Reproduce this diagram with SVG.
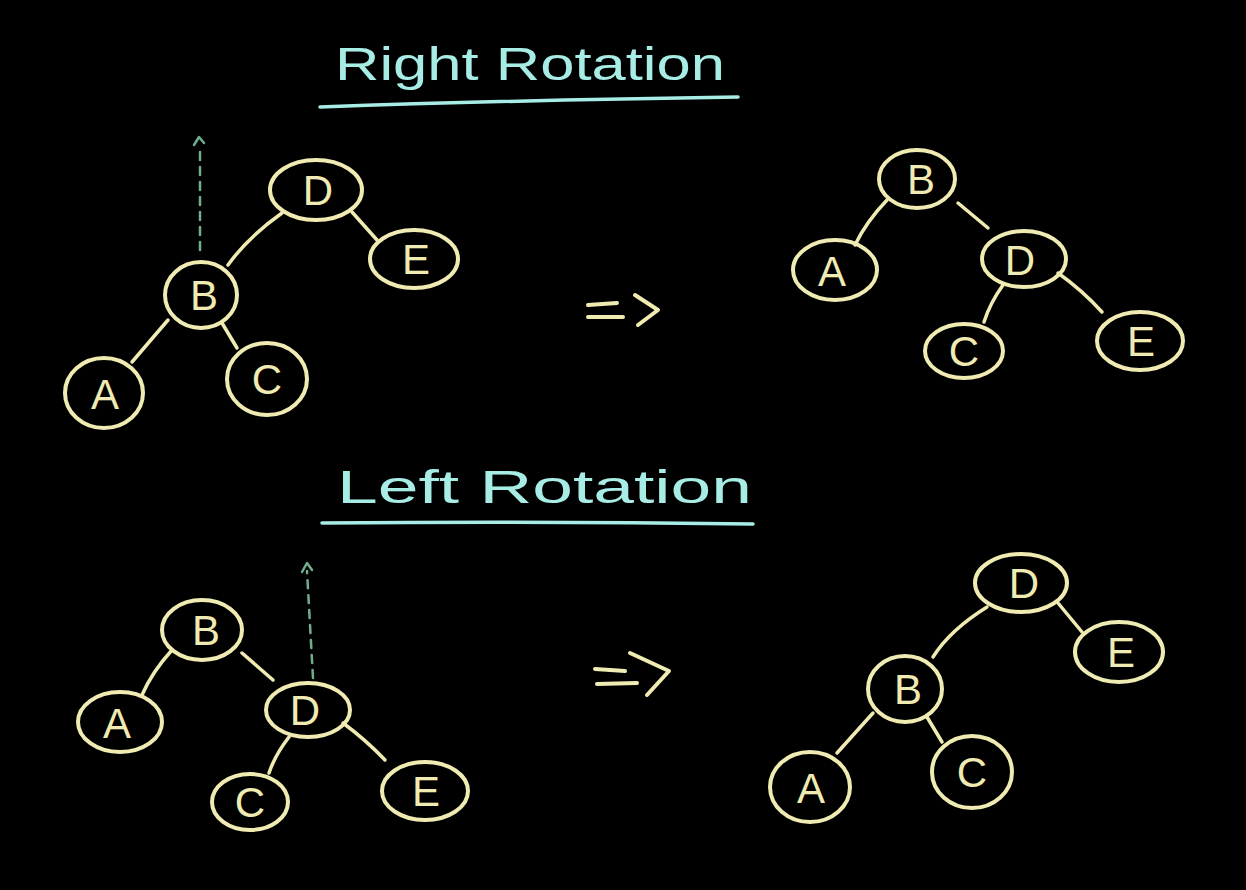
<svg xmlns="http://www.w3.org/2000/svg" width="1246" height="890" viewBox="0 0 1246 890">
<style>
.bg{fill:#000}
.title{font-family:"Liberation Sans",Arial,sans-serif;font-size:46px;fill:#a8ece6}
.uline{fill:none;stroke:#a8ece6;stroke-width:3.5;stroke-linecap:round}
.node ellipse{fill:none;stroke:#f0ebb2;stroke-width:4}
.node text{font-family:"Liberation Sans",Arial,sans-serif;font-size:42px;fill:#f0ebb2;text-anchor:middle}
.edge{fill:none;stroke:#f0ebb2;stroke-width:3.5;stroke-linecap:round}
.dot{fill:none;stroke:#6fae8c;stroke-width:2.5;stroke-dasharray:8 7;stroke-linecap:round}
.head{fill:none;stroke:#6fae8c;stroke-width:2.5;stroke-linecap:round;stroke-linejoin:round}
.imp{fill:none;stroke:#f0ebb2;stroke-width:4;stroke-linecap:round;stroke-linejoin:round}
</style>
<rect class="bg" x="0" y="0" width="1246" height="890"/>

<g id="titles">
<text class="title" x="335" y="80" textLength="390" lengthAdjust="spacingAndGlyphs">Right Rotation</text>
<path class="uline" d="M320 107 Q520 100 738 97"/>
<text class="title" x="337" y="503" textLength="415" lengthAdjust="spacingAndGlyphs">Left Rotation</text>
<path class="uline" d="M322 523 Q540 521 753 524"/>
</g>

<g id="connectors">
<!-- top left tree -->
<path class="edge" d="M282 213 Q248 237 228 265"/>
<path class="edge" d="M352 212 L377 240"/>
<path class="edge" d="M168 320 L132 362"/>
<path class="edge" d="M222 323 L237 348"/>
<path class="dot" d="M200 250 L200 148"/>
<path class="head" d="M194 145 L199 137 L204 143"/>
<!-- top right tree -->
<path class="edge" d="M887 200 Q866 222 855 245"/>
<path class="edge" d="M958 203 L988 228"/>
<path class="edge" d="M1003 285 Q990 303 984 322"/>
<path class="edge" d="M1058 273 Q1082 290 1102 312"/>
<!-- bottom left tree -->
<path class="edge" d="M172 650 Q152 672 142 695"/>
<path class="edge" d="M242 653 L273 680"/>
<path class="edge" d="M289 737 Q275 755 269 773"/>
<path class="edge" d="M343 723 Q366 740 385 760"/>
<path class="dot" d="M313 678 L307 571"/>
<path class="head" d="M302 572 L307 563 L312 570"/>
<!-- bottom right tree -->
<path class="edge" d="M987 607 Q950 630 933 657"/>
<path class="edge" d="M1058 603 L1082 632"/>
<path class="edge" d="M873 713 L837 753"/>
<path class="edge" d="M927 717 L942 742"/>
<!-- implies arrows -->
<path class="imp" d="M588 305 L617 303 M588 317 L623 317 M635 295 L658 310 L638 325"/>
<path class="imp" d="M595 669 L625 671 M597 684 L637 683 M630 653 L669 671 L647 695"/>
</g>

<!-- Right rotation: before -->
<g id="rr-D" class="node"><ellipse cx="316" cy="190" rx="46" ry="30"/><text x="318" y="205">D</text></g>
<g id="rr-E" class="node"><ellipse cx="414" cy="259" rx="44" ry="29"/><text x="416" y="274">E</text></g>
<g id="rr-B" class="node"><ellipse cx="201" cy="295" rx="36" ry="33"/><text x="204" y="310">B</text></g>
<g id="rr-A" class="node"><ellipse cx="104" cy="393" rx="39" ry="35"/><text x="105" y="409">A</text></g>
<g id="rr-C" class="node"><ellipse cx="267" cy="379" rx="40" ry="36"/><text x="267" y="394">C</text></g>

<!-- Right rotation: after -->
<g id="rr2-B" class="node"><ellipse cx="917" cy="179" rx="38" ry="29"/><text x="921" y="194">B</text></g>
<g id="rr2-A" class="node"><ellipse cx="835" cy="270" rx="42" ry="30"/><text x="832" y="286">A</text></g>
<g id="rr2-D" class="node"><ellipse cx="1024" cy="259" rx="42" ry="28"/><text x="1020" y="275">D</text></g>
<g id="rr2-C" class="node"><ellipse cx="964" cy="351" rx="39" ry="27"/><text x="964" y="366">C</text></g>
<g id="rr2-E" class="node"><ellipse cx="1140" cy="341" rx="43" ry="29"/><text x="1141" y="356">E</text></g>

<!-- Left rotation: before -->
<g id="lr-B" class="node"><ellipse cx="202" cy="630" rx="40" ry="30"/><text x="206" y="645">B</text></g>
<g id="lr-A" class="node"><ellipse cx="120" cy="722" rx="42" ry="30"/><text x="117" y="738">A</text></g>
<g id="lr-D" class="node"><ellipse cx="308" cy="710" rx="42" ry="27"/><text x="305" y="725">D</text></g>
<g id="lr-C" class="node"><ellipse cx="250" cy="802" rx="38" ry="28"/><text x="250" y="817">C</text></g>
<g id="lr-E" class="node"><ellipse cx="425" cy="791" rx="43" ry="29"/><text x="426" y="806">E</text></g>

<!-- Left rotation: after -->
<g id="lr2-D" class="node"><ellipse cx="1021" cy="583" rx="46" ry="29"/><text x="1024" y="598">D</text></g>
<g id="lr2-E" class="node"><ellipse cx="1119" cy="652" rx="44" ry="30"/><text x="1121" y="667">E</text></g>
<g id="lr2-B" class="node"><ellipse cx="905" cy="689" rx="37" ry="33"/><text x="908" y="704">B</text></g>
<g id="lr2-A" class="node"><ellipse cx="810" cy="787" rx="40" ry="35"/><text x="811" y="803">A</text></g>
<g id="lr2-C" class="node"><ellipse cx="972" cy="772" rx="40" ry="36"/><text x="972" y="787">C</text></g>
</svg>
